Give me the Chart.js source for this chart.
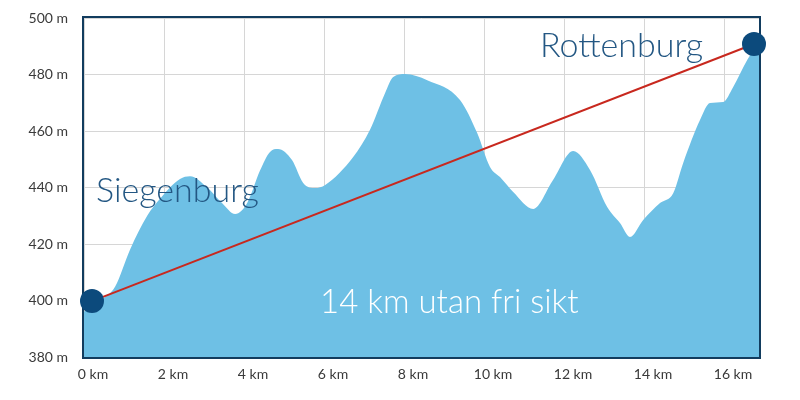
<!DOCTYPE html>
<html>
<head>
<meta charset="utf-8">
<script src="https://cdn.jsdelivr.net/npm/chart.js@4/dist/chart.umd.min.js"></script>
<style>
html, body { margin: 0; padding: 0; background: #fff; }
#wrap { width: 800px; height: 400px; }
</style>
</head>
<body>
<div id="wrap"><canvas id="profil" width="800" height="400"></canvas></div>
<script>
'use strict';

// ── data ────────────────────────────────────────────────────────────────────
const distKm = [0, 0.4, 0.78, 1.15, 1.58, 1.9, 2.4, 2.65, 3.08, 3.45, 3.78, 4.08, 4.4, 4.65, 4.85,
                5.2, 5.48, 5.78, 6.03, 6.73, 7.15, 7.53, 7.73, 8.03, 8.58, 9.4, 9.83, 10.15, 10.4,
                10.73, 11.23, 11.73, 12.23, 12.65, 13.08, 13.4, 13.65, 13.98, 14.4, 14.73, 14.98,
                15.4, 15.65, 15.98, 16.23, 16.58, 16.78, 16.9];
const hoehe  = [396, 400, 405, 418, 430, 436, 443, 444, 440, 434.5, 430.6, 434.5, 446, 452.6, 453.6,
                449.7, 441.6, 439.8, 440.9, 450.8, 460.4, 473.5, 479.1, 480.2, 478, 471, 459.3, 447.3, 443.7,
                438.4, 432.4, 442.7, 452.9, 446.2, 433.1, 427.4, 422.5, 428.5, 434.5, 438, 448.7,
                463.9, 469.9, 470.3, 475.6, 485.1, 489.4, 491];

const sichtKm = [0.2, 16.75];
const sichtM  = [399.8, 490.8];

const xTicks = [0, 2, 4, 6, 8, 10, 12, 14, 16];
const yTicks = [380, 400, 420, 440, 460, 480, 500];

const ortNamen = ['Siegenburg', 'Rottenburg'];
const hinweis  = '14 km utan fri sikt';

// ── farben ──────────────────────────────────────────────────────────────────
const COLOR_AREA  = '#6ec0e5';
const COLOR_RED   = '#c8281e';
const COLOR_DOT   = '#0c4a7c';
const COLOR_FRAME = '#123c5e';
const COLOR_NAME  = '#235783';
const COLOR_GRID  = '#d6d6d6';
const COLOR_TICK  = '#3a3a3a';

// ── plugins ─────────────────────────────────────────────────────────────────
const rahmen = {
    id: 'rahmen',
    beforeDatasetsDraw(chart) {
        const { ctx, chartArea: a } = chart;
        ctx.save();
        ctx.strokeStyle = COLOR_FRAME;
        ctx.lineWidth = 2;
        ctx.strokeRect(a.left - 1, a.top - 1, a.right - a.left + 2, a.bottom - a.top + 2);
        ctx.restore();
    },
};

const beschriftung = {
    id: 'beschriftung',
    afterDatasetsDraw(chart) {
        const { ctx, scales: { x, y } } = chart;
        const put = (txt, km, m, color, size) => {
            ctx.font = `300 ${size}px Lato, "Open Sans", sans-serif`;
            ctx.fillStyle = color;
            ctx.fillText(txt, x.getPixelForValue(km), y.getPixelForValue(m));
        };
        ctx.save();
        ctx.textAlign = 'left';
        ctx.textBaseline = 'alphabetic';
        put(ortNamen[0], 0.3, 434.9, COLOR_NAME, 34);
        put(ortNamen[1], 11.4, 486.2, COLOR_NAME, 34);
        put(hinweis, 5.9, 395.6, '#ffffff', 33);
        ctx.restore();
    },
};

// ── chart ───────────────────────────────────────────────────────────────────
new Chart(document.getElementById('profil'), {
    type: 'line',
    data: {
        datasets: [
            {
                label: 'Orte',
                data: sichtKm.map((k, i) => ({ x: k, y: sichtM[i] })),
                showLine: false,
                pointRadius: 12,
                pointBackgroundColor: COLOR_DOT,
                pointBorderWidth: 0,
                clip: false,
                order: 0,
            },
            {
                label: 'Sichtlinie',
                data: sichtKm.map((k, i) => ({ x: k, y: sichtM[i] })),
                borderColor: COLOR_RED,
                borderWidth: 2,
                pointRadius: 0,
                order: 1,
            },
            {
                label: 'Gelände',
                data: distKm.map((k, i) => ({ x: k, y: hoehe[i] })),
                borderWidth: 0,
                borderColor: COLOR_AREA,
                backgroundColor: COLOR_AREA,
                fill: 'start',
                pointRadius: 0,
                cubicInterpolationMode: 'monotone',
                order: 2,
            },
        ],
    },
    options: {
        responsive: false,
        animation: false,
        events: [],
        layout: { padding: { left: 0, right: 41, top: 18, bottom: 0 } },
        plugins: { legend: { display: false }, tooltip: { enabled: false } },
        scales: {
            x: {
                type: 'linear',
                min: 0,
                max: 16.875,
                afterBuildTicks: s => { s.ticks = xTicks.map(v => ({ value: v })); },
                afterFit: s => { s.height = 43; s.paddingLeft = 0; s.paddingRight = 0; },
                grid: { color: COLOR_GRID, lineWidth: 1, drawTicks: false },
                border: { display: false },
                ticks: {
                    padding: 9,
                    labelOffset: 9,
                    color: COLOR_TICK,
                    font: { family: 'Lato, "Open Sans", sans-serif', size: 14 },
                    callback: v => v + ' km',
                },
            },
            y: {
                type: 'linear',
                min: 380,
                max: 500,
                afterBuildTicks: s => { s.ticks = yTicks.map(v => ({ value: v })); },
                afterFit: s => { s.width = 84; s.paddingTop = 0; s.paddingBottom = 0; },
                grid: { color: COLOR_GRID, lineWidth: 1, drawTicks: false },
                border: { display: false },
                ticks: {
                    padding: 16,
                    color: COLOR_TICK,
                    font: { family: 'Lato, "Open Sans", sans-serif', size: 14 },
                    callback: v => v + ' m',
                },
            },
        },
    },
    plugins: [rahmen, beschriftung],
});
</script>
</body>
</html>
